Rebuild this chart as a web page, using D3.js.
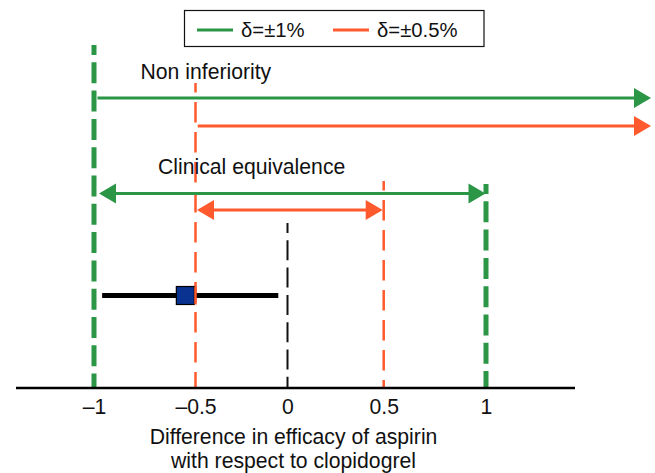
<!DOCTYPE html>
<html><head><meta charset="utf-8">
<script src="https://cdn.jsdelivr.net/npm/d3@7"></script>
<style>
body{margin:0;background:#fff}
svg{display:block}
text{font-family:"Liberation Sans",Arial,Helvetica,sans-serif;fill:#111}
</style>
</head><body>
<svg id="chart" width="655" height="473"></svg>
<script>
// ---------- data ----------
const tickValues = [-1, -0.5, 0, 0.5, 1];
const tickLabels = ["\u20131", "\u20130.5", "0", "0.5", "1"];
const seriesNames = ["\u03b4=\u00b11%", "\u03b4=\u00b10.5%"];
const seriesMargins = [1, 0.5];
const referenceValue = 0;
const estimateValue = -0.55;
const ciBounds = [-0.96, -0.05];
const annotationLabels = ["Non inferiority", "Clinical equivalence"];
const axisTitleLines = ["Difference in efficacy of aspirin", "with respect to clopidogrel"];

// ---------- layout / style ----------
const W = 655, H = 473;
const colors = ["#2a9646", "#ff5a2e"];
const vWidths = [5, 2.5];
const axisY = 388;
const axisExtent = [16, 575];
const arrowEndX = 651;
const vTops = [[45, 184], [83, 181]];   // [left, right] top of dashed margin lines per series
const refTop = 223;
const nonInfY = [98, 126];
const equivY = [193.5, 210];
const arrowInset = [[5, 0.5], [1.5, 1]];
const estY = 295.5;
const fontSize = 21.2;

const svg = d3.select("#chart");

const x = d3.scaleLinear().domain(tickValues).range([94, 195.5, 287.5, 383.7, 486]);

// ---------- legend ----------
const leg = svg.append("g");
leg.append("rect").attr("x", 184.5).attr("y", 10.5).attr("width", 299.5).attr("height", 36)
  .attr("fill", "#fff").attr("stroke", "#111").attr("stroke-width", 1.2);
const legX = [197, 333];
seriesNames.forEach((name, i) => {
  leg.append("line").attr("x1", legX[i]).attr("x2", legX[i] + 36).attr("y1", 30).attr("y2", 30)
    .attr("stroke", colors[i]).attr("stroke-width", 3);
  leg.append("text").attr("x", legX[i] + 44).attr("y", 36.5).attr("font-size", 20.3).text(name);
});

// ---------- vertical dashed lines ----------
seriesMargins.forEach((m, i) => {
  [-m, m].forEach((v, j) => {
    svg.append("line")
      .attr("x1", x(v)).attr("x2", x(v))
      .attr("y1", vTops[i][j]).attr("y2", axisY)
      .attr("stroke", colors[i]).attr("stroke-width", vWidths[i])
      .attr("stroke-dasharray", i === 0 ? "21,7.3" : "20.5,9.5")
      .attr("stroke-dashoffset", 11);
  });
});
svg.append("line")
  .attr("x1", x(referenceValue)).attr("x2", x(referenceValue))
  .attr("y1", refTop).attr("y2", axisY)
  .attr("stroke", "#111").attr("stroke-width", 2)
  .attr("stroke-dasharray", "20,7.3").attr("stroke-dashoffset", 10);

// ---------- arrows ----------
const headL = 17, headH = 10;
function arrow(x1, x2, y, color, startHead, endHead) {
  const g = svg.append("g");
  const dir = x2 > x1 ? 1 : -1;
  const a = startHead ? x1 + dir * (headL - 2) : x1;
  const b = endHead ? x2 - dir * (headL - 2) : x2;
  g.append("line").attr("x1", a).attr("x2", b).attr("y1", y).attr("y2", y)
    .attr("stroke", color).attr("stroke-width", 3);
  const head = (tx, d) => g.append("path")
    .attr("d", `M${tx},${y}L${tx - d * headL},${y - headH}L${tx - d * headL},${y + headH}Z`)
    .attr("fill", color);
  if (endHead) head(x2, dir);
  if (startHead) head(x1, -dir);
}
seriesMargins.forEach((m, i) => {
  arrow(x(-m) + vWidths[i] / 2 + 1, arrowEndX, nonInfY[i], colors[i], false, true);
  arrow(x(-m) + arrowInset[i][0], x(m) - arrowInset[i][1], equivY[i], colors[i], true, true);
});

// ---------- annotation labels ----------
svg.append("text").attr("x", 140.5).attr("y", 79).attr("font-size", fontSize).text(annotationLabels[0]);
svg.append("text").attr("x", 158).attr("y", 174).attr("font-size", fontSize).text(annotationLabels[1]);

// ---------- estimate with CI ----------
svg.append("line").attr("x1", x(ciBounds[0])).attr("x2", x(ciBounds[1]))
  .attr("y1", estY).attr("y2", estY).attr("stroke", "#000").attr("stroke-width", 5);
svg.append("rect").attr("x", x(estimateValue) - 9).attr("y", estY - 9)
  .attr("width", 18).attr("height", 18)
  .attr("fill", "#0a3291").attr("stroke", "#000").attr("stroke-width", 1.2);
// red margin line passes over the square
svg.append("line")
  .attr("x1", x(-seriesMargins[1])).attr("x2", x(-seriesMargins[1]))
  .attr("y1", estY - 9).attr("y2", estY + 9)
  .attr("stroke", colors[1]).attr("stroke-width", vWidths[1]);

// ---------- x axis ----------
const axis = d3.axisBottom(x).tickValues(tickValues)
  .tickFormat((d, i) => tickLabels[i]).tickSize(0).tickPadding(11);
const ag = svg.append("g").attr("transform", `translate(0,${axisY})`).call(axis);
ag.select(".domain").remove();
ag.selectAll("text").attr("font-size", fontSize).attr("font-family", null).attr("fill", "#111");
svg.append("line").attr("x1", axisExtent[0]).attr("x2", axisExtent[1])
  .attr("y1", axisY).attr("y2", axisY).attr("stroke", "#000").attr("stroke-width", 2.5);

axisTitleLines.forEach((t, i) => {
  svg.append("text").attr("x", 293.5).attr("y", 444 + i * 23.5)
    .attr("text-anchor", "middle").attr("font-size", fontSize).text(t);
});
</script>
</body></html>
